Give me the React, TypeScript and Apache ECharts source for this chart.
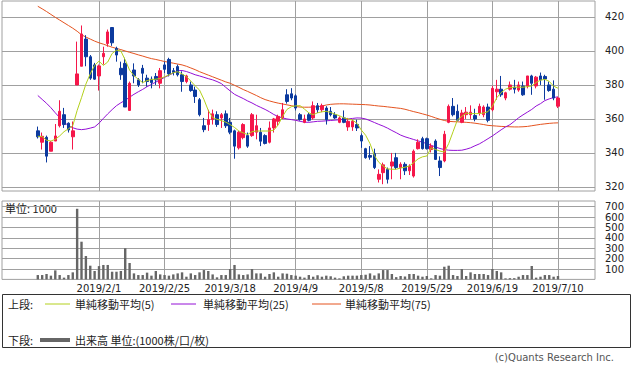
import React, { useEffect, useRef } from "react";
import * as echarts from "echarts";

// Trading-day index 0 = 2019/1/11 ... 119 = 2019/7/10
const tickIdx = [14, 29, 44, 59, 74, 89, 104, 119];
const tickLabels = ["2019/2/1", "2019/2/25", "2019/3/18", "2019/4/9", "2019/5/8", "2019/5/29", "2019/6/19", "2019/7/10"];
const priceTicks = [320, 340, 360, 380, 400, 420];
const volTicks = [100, 200, 300, 400, 500, 600, 700];

const openP = [353, 346.3, 349.2, 341, 347, 356, 362.5, 357.5, 349.5, 380, 391, 407, 396.6, 391.8, 385.3, 396.6, 404.4, 413.8, 401.5, 389.8,
  392.7, 365, 388.8, 383, 389.8, 384, 383.4, 385, 381, 391.8, 395, 388.4, 390.8, 386, 382, 380, 377, 371.3, 356, 356.7,
  359.6, 362.5, 360.6, 363, 358, 353, 343, 349, 350.2, 350.2, 352.2, 352.2, 350.2, 346.3, 354.7, 358.6, 360.6, 374.2, 374.8, 373.6,
  362.5, 358, 362.5, 360.6, 367.8, 365.4, 366.4, 364.5, 362.5, 358, 360.6, 355.3, 355.3, 356.7, 350.2, 342.5, 338.5, 339.7, 324.5, 328.4,
  330.3, 332.3, 337.2, 331.4, 333.3, 329.5, 326.4, 342.5, 348.4, 348.4, 342, 347, 335.3, 335.3, 358, 367.4, 364.5, 358, 362.5, 362.5,
  362, 363.5, 362.5, 367, 365.4, 376, 377.5, 372.3, 377.5, 378.6, 377, 379.4, 379.4, 385.3, 379.4, 385.3, 385, 380, 377.5, 367.5];
const closeP = [349.5, 349.8, 338.1, 346.3, 350, 364.5, 356.7, 353.5, 353, 386.5, 410, 396.6, 384, 383.4, 391.2, 398.6, 411.2, 404.8, 397.6, 386,
  367, 381, 385.3, 380, 386.9, 382, 381.4, 383, 388.4, 389.2, 386.5, 387.4, 386, 382, 385.3, 376.7, 373.2, 362.5, 353.7, 359.6,
  363, 356.7, 362.5, 356, 352.2, 344, 352.2, 356.7, 344, 362.5, 356, 346.9, 345.6, 354.7, 360, 361.5, 365.4, 370.3, 372.3, 366.4,
  359.6, 360, 359.2, 367.8, 365.4, 367.8, 359.6, 362.5, 360.6, 360.6, 358, 358.6, 358.6, 354.7, 347, 337.2, 337.5, 331.4, 327.4, 333,
  324.5, 334.7, 331.4, 333.3, 329.5, 332.3, 341, 346.3, 342.5, 342.5, 344, 336.2, 331.4, 351, 367.4, 362.5, 359.2, 363.5, 364, 364,
  360, 367.4, 367, 359.2, 378, 377.5, 374.2, 375.4, 380, 377.5, 380, 374.2, 385.3, 381, 384.6, 383, 383.5, 376.7, 372.3, 372.3];
const lowP = [348.5, 342, 334.4, 341, 347, 355, 354.7, 352, 342, 380, 391, 391, 383, 383, 376.7, 392, 402.5, 403, 393.7, 383,
  367, 365, 381, 378.8, 381, 379, 378, 380, 378, 387, 385, 385.6, 385, 376, 381, 376, 369.4, 361.5, 352.2, 353,
  356.7, 355.3, 354.7, 354.7, 351, 336.6, 342, 348, 343, 349.5, 348, 344, 345, 345.6, 352, 356, 360, 369, 371, 365,
  359, 357.5, 358.6, 359.6, 363.5, 364, 356.7, 361.5, 360, 357.5, 357.5, 353, 353, 352.9, 343, 336.6, 336, 330.5, 322.6, 321.6,
  322, 324.5, 330.3, 324.5, 327, 327, 325.5, 342, 342, 342, 340.3, 336, 326.4, 334.5, 357.5, 361.5, 358.6, 357.5, 360, 360,
  358.6, 362, 361, 358, 364.5, 371.3, 373, 371, 376.7, 375, 376, 373.6, 378, 374.2, 378, 380, 371.3, 376, 371, 366.4];
const highP = [355.5, 352, 350.2, 347, 357, 371, 366.5, 358, 358.5, 405.5, 415, 409.3, 397.6, 393, 392, 402.5, 412.6, 414, 402.5, 393.7,
  396, 382, 392.7, 384, 391.8, 386, 385, 387, 390, 393.7, 396, 390, 392, 388, 386, 382, 379, 372.3, 360.6, 365.4,
  365.5, 364.5, 363.5, 365, 360.6, 353.7, 353, 357.5, 352, 363.5, 362.5, 354.7, 351, 358.5, 360.6, 362.5, 369.4, 377.5, 378.1, 374.5,
  363.5, 362.5, 363.5, 370.3, 369.4, 369, 367.5, 367, 364, 361.5, 365, 360.6, 359.6, 359.6, 351.4, 343, 344, 342.5, 330.3, 334.3,
  331.4, 340, 340, 334.5, 334.5, 333.3, 342, 348, 349.5, 349, 345.6, 348, 338, 353, 368.5, 372.3, 368.5, 365.4, 367, 368,
  366, 369, 368, 369, 379.5, 383, 385.3, 376, 382, 383, 382, 382, 385.3, 386, 385.3, 387.3, 386, 382, 382.7, 373];

const ma5 = [349.8, 349.6, 347.5, 347, 348, 350, 352.5, 354.2, 356, 365, 372.5, 380.5, 386.5, 391.5, 394, 391.5, 393.5, 398.5, 400.5, 400,
  394.7, 388.7, 385.5, 383.3, 381.4, 382.6, 383.2, 383.4, 383.8, 384.8, 385.9, 387.2, 387.8, 386.5, 384.9, 382.3, 379.5, 377, 371.5, 365,
  360.8, 359.8, 359, 358.1, 356.7, 355, 352.9, 351.8, 350.8, 352.5, 352.9, 352.9, 352.9, 352.9, 353.4, 356.5, 361.5, 365.6, 367.2, 367.7,
  367.8, 365.8, 363.6, 362.5, 363.6, 364.2, 364.5, 363.8, 362.8, 361.9, 360.6, 360, 359.3, 357.5, 353.5, 350.4, 345.5, 338.5, 334.5, 332.3,
  330.6, 330.4, 330.4, 331.1, 331.6, 332.3, 334.3, 336.5, 337.7, 338.2, 343, 342, 341.1, 340.5, 345.5, 352.5, 359.5, 361.5, 363.4, 363.2,
  363.1, 363.2, 363.5, 364.3, 367.5, 372.5, 375.5, 377.5, 378.5, 378.7, 378.7, 378.7, 379, 379.4, 381.5, 382.8, 383.3, 382.1, 379.3, 378.1];
const ma25 = [373.8, 371.5, 369.2, 366.6, 363.6, 360.8, 358.2, 356, 354.8, 354, 353.7, 354, 354.6, 355.3, 357.5, 360.3, 363, 365.5, 367.8, 369.5,
  371, 372.8, 374.5, 376, 377.4, 379, 380.3, 381.7, 383, 384.5, 385.7, 387, 388.4, 388.5, 387.9, 387, 386, 385.3, 384.5, 383.7,
  383, 382, 380.8, 378.6, 376.5, 374.5, 373.2, 372, 370.6, 369.4, 368, 366.8, 365.6, 364.2, 362.6, 361.4, 360.6, 360, 359.6, 359.2,
  358.6, 358.1, 358, 358.3, 358.6, 358.7, 358.9, 359.1, 359.3, 359.5, 359.8, 360, 360.3, 360.6, 360.5, 360, 359, 357.9, 356.8, 355.8,
  354.6, 353.2, 351.9, 350.5, 349.5, 348.7, 347.9, 347.1, 346.3, 345.5, 344.5, 343.5, 342.6, 342, 341.6, 341.5, 341.5, 341.6, 342.2, 343,
  344.2, 345.3, 346.8, 348.4, 350, 351.8, 353.6, 355.3, 356.6, 358.6, 360.7, 362.4, 364, 365.6, 367.6, 369, 370.8, 371.8, 372.6, 373];
const ma75 = [426.3, 424.8, 423.2, 421.5, 419.8, 418.2, 416.6, 415, 413.4, 411.6, 409.5, 408.2, 407, 405.8, 404.8, 404, 403.1, 402.2, 401.5, 400.8,
  400, 399.2, 398.5, 397.7, 397, 396.2, 395.5, 395, 394.4, 393.8, 393.3, 392.8, 392.3, 391.8, 391, 390, 389, 387.8, 386.8, 385.8,
  384.8, 383.8, 382.8, 381.8, 381, 379.8, 378.6, 377.3, 376.2, 375, 373.8, 372.5, 371.4, 370.6, 369.9, 369.3, 368.8, 368.3, 367.8, 367.3,
  367, 366.9, 366.9, 367, 367.2, 367.6, 368.2, 368.6, 368.8, 368.9, 368.9, 368.8, 368.7, 368.6, 368.5, 368.4, 368.2, 367.9, 367.6, 367.4,
  367.1, 366.8, 366.5, 366.2, 365.7, 365, 364.3, 363.7, 363, 362.3, 361.5, 360.6, 359.8, 359.1, 358.6, 358.4, 358.3, 358.2, 358, 357.8,
  357.5, 357.1, 356.7, 356.2, 356, 355.8, 355.6, 355.5, 355.4, 355.3, 355.3, 355.4, 355.6, 356, 356.4, 356.8, 357.1, 357.4, 357.6, 357.7];
const volume = [42, 42, 52, 36, 87, 42, 17, 42, 68, 680, 363, 225, 132, 81, 128, 139, 139, 74, 74, 81,
  300, 158, 58, 42, 42, 65, 36, 81, 48, 42, 36, 48, 58, 68, 26, 58, 42, 68, 90, 81,
  48, 20, 42, 42, 100, 139, 48, 42, 48, 100, 58, 58, 26, 52, 68, 26, 58, 55, 42, 36,
  26, 17, 42, 26, 40, 26, 36, 30, 17, 10, 30, 36, 36, 36, 42, 45, 58, 38, 58, 90,
  90, 52, 22, 33, 28, 52, 52, 36, 26, 33, 10, 42, 36, 122, 132, 42, 33, 100, 33, 68,
  52, 52, 52, 42, 100, 81, 68, 10, 12, 12, 26, 42, 42, 129, 17, 26, 42, 42, 26, 33];

const UP = "#f5174a";
const DOWN = "#0c3a9e";
const GRID = "#a0a0a0";
const X_MIN = -8.19;
const X_MAX = 127.47;
const FONT = "DejaVu Sans";
const JP = "Noto Sans CJK JP";

export default function App() {
  const ref = useRef<HTMLDivElement>(null);
  useEffect(() => {
    if (!ref.current) return;
    const chart = echarts.init(ref.current, null, { renderer: "svg" });
    const candles = openP.map((o, i) => [i, o, closeP[i], lowP[i], highP[i]]);
    const pair = (arr: number[]) => arr.map((v, i) => [i, v]);
    const labelOf = (v: number) => {
      const k = tickIdx.indexOf(Math.round(v));
      return k >= 0 ? tickLabels[k] : "";
    };
    const legendY1 = 304;
    const legendY2 = 340;
    const option: any = {
      animation: false,
      grid: [
        { left: 2, top: 1, width: 593, height: 190, show: true, borderColor: GRID, borderWidth: 1, backgroundColor: "transparent" },
        { left: 2, top: 201, width: 593, height: 78.4, show: true, borderColor: GRID, borderWidth: 1, backgroundColor: "transparent" },
      ],
      xAxis: [
        {
          type: "value", gridIndex: 0, min: X_MIN, max: X_MAX,
          axisLine: { show: false },
          axisTick: { show: false, customValues: tickIdx },
          axisLabel: { show: false, customValues: tickIdx },
          splitLine: { show: true, lineStyle: { color: GRID, width: 1 } },
        },
        {
          type: "value", gridIndex: 1, min: X_MIN, max: X_MAX,
          axisLine: { show: false },
          axisTick: { show: false, customValues: tickIdx },
          axisLabel: { show: true, customValues: tickIdx, formatter: labelOf, fontSize: 10, fontFamily: FONT, color: "#222", margin: 4 },
          splitLine: { show: true, lineStyle: { color: GRID, width: 1 } },
        },
      ],
      yAxis: [
        {
          type: "value", gridIndex: 0, position: "right", min: 317.6, max: 429.4,
          axisLine: { show: false },
          axisTick: { show: true, length: 4, lineStyle: { color: GRID }, customValues: priceTicks },
          axisLabel: { customValues: priceTicks, fontSize: 10, fontFamily: FONT, color: "#222", margin: 10 },
          splitLine: { show: true, lineStyle: { color: GRID, width: 1 } },
        },
        {
          type: "value", gridIndex: 1, position: "right", min: 0, max: 755,
          axisLine: { show: false },
          axisTick: { show: true, length: 4, lineStyle: { color: GRID }, customValues: volTicks },
          axisLabel: { customValues: volTicks, fontSize: 10, fontFamily: FONT, color: "#222", margin: 10 },
          splitLine: { show: true, lineStyle: { color: GRID, width: 1 } },
        },
      ],
      series: [
        {
          type: "line", xAxisIndex: 0, yAxisIndex: 0, data: pair(ma75), showSymbol: false, symbol: "none",
          lineStyle: { color: "#e4531f", width: 1 }, z: 3, silent: true,
        },
        {
          type: "line", xAxisIndex: 0, yAxisIndex: 0, data: pair(ma25), showSymbol: false, symbol: "none",
          lineStyle: { color: "#9410d6", width: 1 }, z: 3, silent: true,
        },
        {
          type: "candlestick", xAxisIndex: 0, yAxisIndex: 0, data: candles, barWidth: 3,
          encode: { x: 0, y: [1, 2, 3, 4] },
          itemStyle: { color: UP, color0: DOWN, borderColor: UP, borderColor0: DOWN, borderWidth: 1 },
          z: 4,
        },
        {
          type: "line", xAxisIndex: 0, yAxisIndex: 0, data: pair(ma5), showSymbol: false, symbol: "none",
          lineStyle: { color: "#b3d01c", width: 1 }, z: 5, silent: true,
        },
        {
          type: "bar", xAxisIndex: 1, yAxisIndex: 1, data: pair(volume), barWidth: 2.4,
          itemStyle: { color: "#666666" }, silent: true,
        },
      ],
      graphic: [
        { type: "text", left: 5, top: 202, style: { text: "単位: 1000", fontSize: 11, fontFamily: JP, fill: "#222" } },
        { type: "rect", shape: { x: 2.5, y: 294.5, width: 628, height: 53 }, style: { fill: "none", stroke: "#333", lineWidth: 1 } },
        { type: "text", x: 8, y: legendY1, style: { text: "上段:", fontSize: 11, fontFamily: JP, fill: "#222", verticalAlign: "middle" } },
        { type: "line", shape: { x1: 45, y1: legendY1, x2: 70, y2: legendY1 }, style: { stroke: "#b3d01c", lineWidth: 1 } },
        { type: "text", x: 75, y: legendY1, style: { text: "単純移動平均(5)", fontSize: 11, fontFamily: JP, fill: "#222", verticalAlign: "middle" } },
        { type: "line", shape: { x1: 171, y1: legendY1, x2: 196, y2: legendY1 }, style: { stroke: "#9410d6", lineWidth: 1 } },
        { type: "text", x: 203, y: legendY1, style: { text: "単純移動平均(25)", fontSize: 11, fontFamily: JP, fill: "#222", verticalAlign: "middle" } },
        { type: "line", shape: { x1: 312, y1: legendY1, x2: 341, y2: legendY1 }, style: { stroke: "#e4531f", lineWidth: 1 } },
        { type: "text", x: 345, y: legendY1, style: { text: "単純移動平均(75)", fontSize: 11, fontFamily: JP, fill: "#222", verticalAlign: "middle" } },
        { type: "text", x: 8, y: legendY2, style: { text: "下段:", fontSize: 11, fontFamily: JP, fill: "#222", verticalAlign: "middle" } },
        { type: "line", shape: { x1: 40, y1: legendY2, x2: 70, y2: legendY2 }, style: { stroke: "#666666", lineWidth: 4 } },
        { type: "text", x: 75, y: legendY2, style: { text: "出来高 単位:(1000株/口/枚)", fontSize: 11, fontFamily: JP, fill: "#222", verticalAlign: "middle" } },
        { type: "text", x: 614, y: 357, style: { text: "(c)Quants Research Inc.", fontSize: 10, fontFamily: FONT, fill: "#555", align: "right", verticalAlign: "middle" } },
      ],
    };
    chart.setOption(option);
    return () => chart.dispose();
  }, []);
  return <div ref={ref} style={{ width: 633, height: 371, position: "absolute", left: 0, top: 0, background: "#fff" }} />;
}
